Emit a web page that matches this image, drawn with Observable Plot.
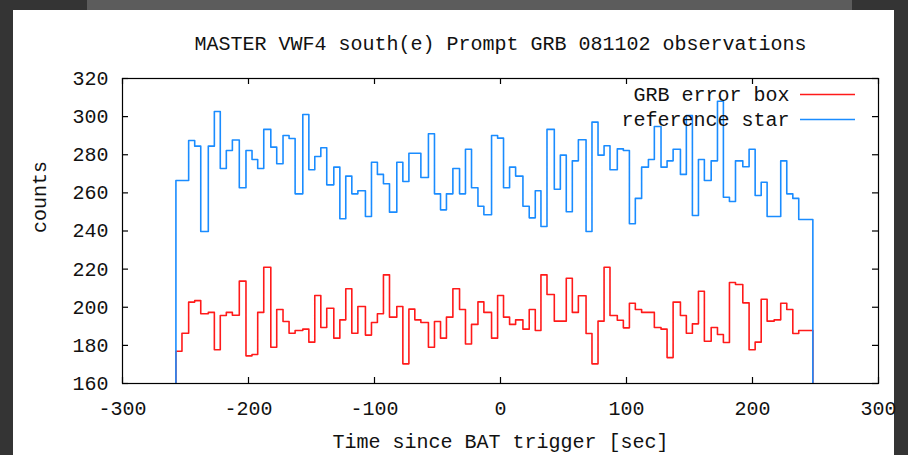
<!DOCTYPE html>
<html>
<head>
<meta charset="utf-8">
<script src="https://cdn.jsdelivr.net/npm/d3@7"></script>
<script src="https://cdn.jsdelivr.net/npm/@observablehq/plot@0.6"></script>
<style>
  html, body { margin: 0; padding: 0; width: 908px; height: 455px; overflow: hidden; background: #343434; }
  #paper { position: absolute; left: 13px; top: 10px; width: 881px; height: 445px; background: #ffffff; }
  #strip { position: absolute; left: 87px; top: 0; width: 765px; height: 10px; background: #5c5c5c; }
  #chart { position: absolute; left: 0; top: 0; }
</style>
</head>
<body>
<div id="strip"></div>
<div id="paper"></div>
<div id="chart"></div>
<script>
// ---- data ----
const title = "MASTER VWF4 south(e) Prompt GRB 081102 observations";
const xLabel = "Time since BAT trigger [sec]";
const yLabel = "counts";
const seriesNames = ["GRB error box", "reference star"];
const seriesColors = ["#ff1a1a", "#1a8cff"];

// bin edges, seconds since BAT trigger
const binEdges = [
  -257.6, -252.8, -247.5, -242.7, -237.9, -231.9, -227.1, -222.4, -217.6, -212.8,
  -207.3, -202.0, -197.2, -192.7, -187.9, -182.3, -177.6, -172.6, -167.8, -163.0,
  -156.9, -152.1, -147.4, -142.6, -137.9, -132.3, -127.5, -122.8, -118.0, -113.2,
  -107.2, -102.4, -97.7, -92.9, -88.1, -82.3, -77.5, -72.7, -68.0, -63.2,
  -57.2, -52.4, -47.6, -42.9, -37.8, -32.5, -27.8, -23.0, -17.9, -13.2,
  -7.1, -2.3, 2.4, 7.2, 12.0, 17.8, 22.8, 27.6, 32.1, 36.9,
  42.7, 47.5, 52.2, 57.0, 61.8, 67.9, 72.6, 77.4, 82.2, 86.9,
  92.7, 97.5, 102.3, 107.0, 112.0, 117.4, 122.1, 127.4, 132.2, 137.0,
  142.8, 147.5, 152.3, 157.1, 161.8, 167.2, 172.2, 176.9, 181.7, 186.5,
  192.3, 197.3, 202.1, 206.9, 211.6, 217.2, 222.4, 227.2, 232.0, 236.7,
  242.3, 247.9
];

const grbCounts = [
  176.9, 186.4, 202.7, 203.5, 196.6, 197.3, 177.7, 195.7, 197.3, 195.8,
  213.7, 174.5, 175.2, 197.3, 221.0, 179.0, 198.8, 192.5, 186.4, 187.8,
  188.5, 181.7, 206.2, 189.4, 199.5, 183.8, 193.4, 209.7, 186.4, 200.4,
  185.4, 192.0, 196.6, 217.0, 194.8, 200.4, 170.3, 199.0, 193.4, 192.0,
  179.0, 192.5, 183.8, 194.8, 209.7, 198.8, 180.7, 191.0, 202.8, 197.3,
  183.8, 206.2, 194.8, 191.0, 193.4, 188.5, 198.8, 187.8, 217.0, 206.7,
  192.7, 192.7, 215.2, 197.3, 206.0, 186.2, 170.3, 192.7, 221.0, 195.7,
  193.2, 189.2, 202.1, 198.8, 197.3, 197.3, 189.4, 188.5, 173.6, 202.7,
  195.7, 186.4, 191.3, 208.4, 182.2, 189.4, 185.7, 181.5, 213.0, 211.9,
  202.3, 177.7, 181.7, 204.2, 192.7, 193.4, 202.1, 198.8, 186.2, 187.8,
  187.8
];

const refCounts = [
  266.5, 266.5, 287.5, 284.5, 239.7, 284.5, 302.7, 272.8, 282.2, 287.7,
  262.7, 282.2, 277.5, 272.8, 293.3, 284.0, 275.3, 290.1, 288.5, 259.5,
  301.1, 272.1, 279.1, 283.7, 264.2, 273.5, 246.4, 268.8, 259.5, 261.1,
  247.6, 276.1, 269.7, 264.8, 249.9, 276.1, 266.0, 280.8, 280.8, 268.1,
  291.0, 259.5, 251.1, 259.5, 272.8, 259.5, 282.9, 262.7, 253.0, 248.5,
  290.1, 288.7, 262.7, 273.5, 268.8, 253.0, 246.9, 261.1, 242.4, 293.3,
  261.9, 279.8, 250.1, 276.8, 287.9, 239.7, 297.1, 279.8, 284.7, 272.1,
  283.1, 282.2, 243.8, 257.1, 273.5, 277.5, 294.8, 273.5, 276.8, 282.9,
  269.7, 300.6, 248.1, 277.5, 266.5, 276.8, 308.1, 257.7, 255.5, 276.8,
  273.7, 282.9, 258.6, 265.6, 247.6, 247.6, 276.8, 259.5, 257.1, 246.0,
  246.0
];

const xTicks = [-300, -200, -100, 0, 100, 200, 300];
const yTicks = [160, 180, 200, 220, 240, 260, 280, 300, 320];
const xDomain = [-300, 300];
const yDomain = [160, 320];

// ---- build step series (drop to zero at both ends, clipped by the frame) ----
function stepSeries(name, counts) {
  const pts = [{t: binEdges[0], c: 0, s: name}];
  counts.forEach((c, i) => pts.push({t: binEdges[i], c, s: name}));
  const last = binEdges[binEdges.length - 1];
  pts.push({t: last, c: counts[counts.length - 1], s: name});
  pts.push({t: last, c: 0, s: name});
  return pts;
}
const grbSeries = stepSeries(seriesNames[0], grbCounts);
const refSeries = stepSeries(seriesNames[1], refCounts);

const W = 908, H = 455;
const mL = 122, mR = 30, mT = 78, mB = 72;
const plotW = W - mL - mR, plotH = H - mT - mB;
const tick = 6;
const font = "Liberation Mono, DejaVu Sans Mono, monospace";

const chart = Plot.plot({
  width: W,
  height: H,
  marginLeft: mL,
  marginRight: mR,
  marginTop: mT,
  marginBottom: mB,
  style: {background: "transparent", fontFamily: font, fontSize: "20px", color: "#111"},
  x: {domain: xDomain, axis: null},
  y: {domain: yDomain, axis: null},
  marks: [
    // data
    Plot.line(grbSeries, {x: "t", y: "c", curve: "step-after", stroke: seriesColors[0], strokeWidth: 1.6, clip: true}),
    Plot.line(refSeries, {x: "t", y: "c", curve: "step-after", stroke: seriesColors[1], strokeWidth: 1.6, clip: true}),
    // frame and inward ticks (mirrored)
    Plot.frame({stroke: "#000", strokeWidth: 1.2}),
    Plot.ruleX(xTicks, {x: d => d, insetTop: plotH - tick, stroke: "#000", strokeWidth: 1.2}),
    Plot.ruleX(xTicks, {x: d => d, insetBottom: plotH - tick, stroke: "#000", strokeWidth: 1.2}),
    Plot.ruleY(yTicks, {y: d => d, insetRight: plotW - tick, stroke: "#000", strokeWidth: 1.2}),
    Plot.ruleY(yTicks, {y: d => d, insetLeft: plotW - tick, stroke: "#000", strokeWidth: 1.2}),
    // tick labels
    Plot.text(xTicks, {x: d => d, text: d => String(d), frameAnchor: "bottom", dy: 25, lineAnchor: "middle", fontSize: 20}),
    Plot.text(yTicks, {y: d => d, text: d => String(d), frameAnchor: "left", dx: -14, textAnchor: "end", lineAnchor: "middle", fontSize: 20}),
    // titles
    Plot.text([title], {frameAnchor: "top", dy: -35, lineAnchor: "middle", fontSize: 20}),
    Plot.text([xLabel], {frameAnchor: "bottom", dy: 58, lineAnchor: "middle", fontSize: 20}),
    Plot.text([yLabel], {frameAnchor: "left", dx: -83, dy: 2, rotate: -90, lineAnchor: "middle", fontSize: 20}),
    // legend
    Plot.text([seriesNames[0]], {frameAnchor: "top-right", dx: -89, dy: 16, textAnchor: "end", lineAnchor: "middle", fontSize: 20}),
    Plot.text([seriesNames[1]], {frameAnchor: "top-right", dx: -89, dy: 41, textAnchor: "end", lineAnchor: "middle", fontSize: 20}),
    Plot.ruleY([yDomain[1]], {y: d => d, dy: 16, insetLeft: plotW - 78, insetRight: 23, stroke: seriesColors[0], strokeWidth: 1.6}),
    Plot.ruleY([yDomain[1]], {y: d => d, dy: 41, insetLeft: plotW - 78, insetRight: 23, stroke: seriesColors[1], strokeWidth: 1.6})
  ]
});
document.getElementById("chart").appendChild(chart);
</script>
</body>
</html>
